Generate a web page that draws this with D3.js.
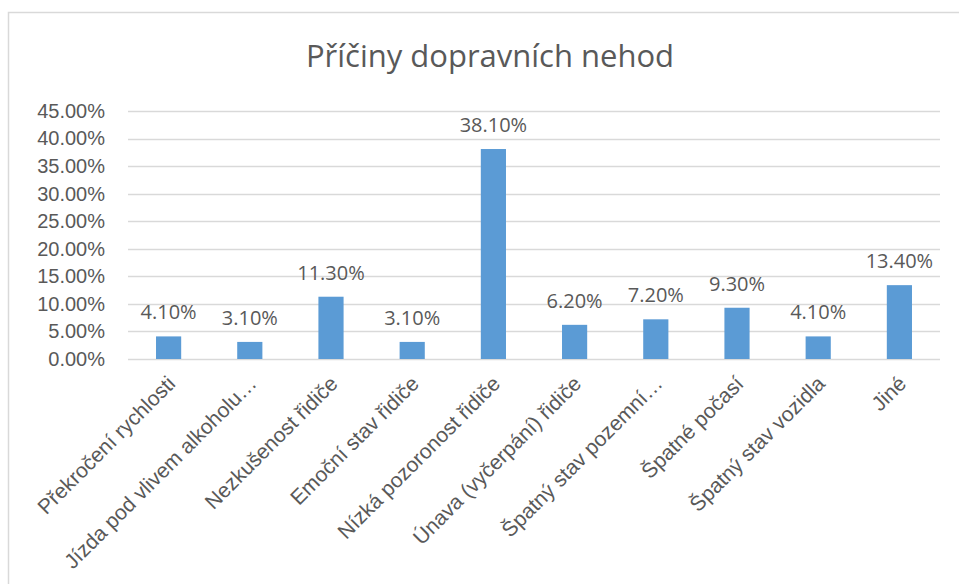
<!DOCTYPE html>
<html>
<head>
<meta charset="utf-8">
<script src="https://cdn.jsdelivr.net/npm/d3@7"></script>
<style>
  body { margin: 0; background: #fff; }
  svg { display: block; font-family: "Open Sans", sans-serif; }
</style>
</head>
<body>
<svg id="graph" width="959" height="584"></svg>
<script>
var categories = [
    "Překročení rychlosti",
    "Jízda pod vlivem alkoholu…",
    "Nezkušenost řidiče",
    "Emoční stav řidiče",
    "Nízká pozoronost řidiče",
    "Únava (vyčerpání) řidiče",
    "Špatný stav pozemní…",
    "Špatné počasí",
    "Špatný stav vozidla",
    "Jiné"
];
var values = [4.1, 3.1, 11.3, 3.1, 38.1, 6.2, 7.2, 9.3, 4.1, 13.4];
var yTicks = [0, 5, 10, 15, 20, 25, 30, 35, 40, 45];
var chartTitle = "Příčiny dopravních nehod";

var svg = d3.select("#graph");
var textColor = "#595959";
var gridColor = "#d9d9d9";

// chart frame
svg.append("rect")
    .attr("x", 8.5).attr("y", 12.5)
    .attr("width", 1000).attr("height", 1000)
    .attr("fill", "none")
    .attr("stroke", gridColor)
    .attr("stroke-width", 1.5);

var plotLeft = 128, plotRight = 940, plotTop = 111, plotBottom = 359;

var x = d3.scaleBand()
    .domain(categories)
    .range([plotLeft, plotRight])
    .paddingInner(0.69)
    .paddingOuter(0.345);

var y = d3.scaleLinear()
    .domain([0, 45])
    .range([plotBottom, plotTop]);

// gridlines
svg.append("g")
    .selectAll("line")
    .data(yTicks)
    .enter()
    .append("line")
    .attr("x1", plotLeft).attr("x2", plotRight)
    .attr("y1", function(d) {return Math.round(y(d)) + 0.5;})
    .attr("y2", function(d) {return Math.round(y(d)) + 0.5;})
    .attr("stroke", gridColor)
    .attr("stroke-width", 1.3);

// y axis labels
var yAxis = d3.axisLeft(y)
    .tickValues(yTicks)
    .tickSize(0)
    .tickPadding(23)
    .tickFormat(function(d) {return d.toFixed(2) + "%";});

var yg = svg.append("g")
    .attr("transform", "translate(" + plotLeft + ",0)")
    .call(yAxis);
yg.select(".domain").remove();
yg.selectAll("text")
    .attr("fill", textColor)
    .style("font-size", "20px");

// bars
svg.append("g")
    .selectAll("rect")
    .data(values)
    .enter()
    .append("rect")
    .attr("x", function(d, i) {return x(categories[i]);})
    .attr("y", function(d) {return y(d);})
    .attr("width", x.bandwidth())
    .attr("height", function(d) {return y(0) - y(d);})
    .attr("fill", "#5b9bd5");

// value labels
svg.append("g")
    .selectAll("text")
    .data(values)
    .enter()
    .append("text")
    .attr("x", function(d, i) {return x(categories[i]) + x.bandwidth() / 2;})
    .attr("y", function(d) {return y(d) - 17;})
    .attr("text-anchor", "middle")
    .attr("fill", textColor)
    .style("font-size", "20px")
    .text(function(d) {return d.toFixed(2) + "%";});

// category labels
var xAxis = d3.axisBottom(x).tickSize(0).tickPadding(0);
var xg = svg.append("g")
    .attr("transform", "translate(0," + plotBottom + ")")
    .call(xAxis);
xg.select(".domain").remove();
xg.selectAll("text")
    .attr("fill", textColor)
    .style("font-size", "21px")
    .attr("text-anchor", "end")
    .attr("dy", null)
    .attr("y", null)
    .attr("transform", "translate(8,26) rotate(-45)");

// title
svg.append("text")
    .attr("x", 490)
    .attr("y", 67)
    .attr("text-anchor", "middle")
    .attr("fill", textColor)
    .style("font-size", "31px")
    .text(chartTitle);
</script>
</body>
</html>
